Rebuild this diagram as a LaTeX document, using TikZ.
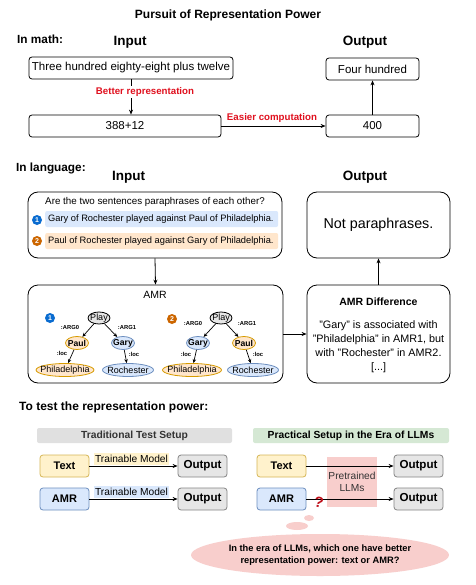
\documentclass[tikz,border=0pt]{standalone}
\usepackage{fontspec}
\setmainfont{Liberation Sans}
\usetikzlibrary{arrows.meta,shapes.geometric}
\definecolor{redlab}{HTML}{E0101E}
\definecolor{bluefill}{HTML}{DAE8FC}
\definecolor{bluedraw}{HTML}{6C8EBF}
\definecolor{orfill}{HTML}{FFE6CC}
\definecolor{ordraw}{HTML}{D79B00}
\definecolor{yelfill}{HTML}{FFF2CC}
\definecolor{yeldraw}{HTML}{D6B656}
\definecolor{grayfill}{HTML}{E6E6E6}
\definecolor{graydraw}{HTML}{666666}
\definecolor{pinkfill}{HTML}{F8CECC}
\definecolor{greenfill}{HTML}{D5E8D4}
\definecolor{barfill}{HTML}{E0E0E0}
\definecolor{numblue}{HTML}{0A6CD0}
\definecolor{numorange}{HTML}{CC6600}
\definecolor{darktext}{HTML}{333333}
\begin{document}
\begin{tikzpicture}[x=1pt,y=-1pt,
  fs/.style={font=\fontsize{#1}{#1}\selectfont},
  fsb/.style={font=\fontsize{#1}{#1}\selectfont\bfseries},
  mbox/.style={draw, rounded corners=3pt, line width=0.8pt, inner sep=0},
  bigbox/.style={draw, rounded corners=10pt, line width=0.8pt, inner sep=0},
  arr/.style={-{Stealth[length=5pt,width=4pt]}, line width=0.8pt},
  redlabel/.style={fsb=9.7, text=redlab, inner sep=1pt},
  numc/.style={circle, inner sep=0, minimum size=10, text=white, fsb=7},
  tnode/.style={ellipse, draw, line width=0.8pt, inner sep=0, minimum height=13},
  tgray/.style={tnode, fill=grayfill, draw=black},
  torange/.style={tnode, fill=orfill, draw=ordraw},
  tblue/.style={tnode, fill=bluefill, draw=bluedraw},
  tt/.style={label={[fs=9,inner sep=0]center:#1}},
  ttb/.style={label={[fsb=8.6,inner sep=0]center:#1}},
  elab/.style={fsb=5.8, inner sep=0.5pt},
  tarr/.style={-{Stealth[length=4pt,width=3.5pt]}, line width=0.7pt},
  sbox/.style={draw, rounded corners=3pt, line width=0.8pt, inner sep=0, minimum width=49, minimum height=22, fsb=11},
  ybox/.style={sbox, fill=yelfill, draw=yeldraw},
  bbox/.style={sbox, fill=bluefill, draw=bluedraw},
  obox/.style={sbox, fill=grayfill, draw=graydraw!80, fsb=11.6},
  bubble/.style={ellipse, fill=pinkfill, inner sep=0},
  hl/.style={rounded corners=2pt, minimum width=233, minimum height=16, inner sep=0, anchor=west}
]
\fill[white] (0,0) rectangle (475,585);
\useasboundingbox (0,0) rectangle (475,585);

% ---------------- math
\node[fsb=12] (title) at (228,15) {Pursuit of Representation Power};
\node[fsb=11.8, anchor=west, inner sep=0] (inmath) at (17,39) {In math:};
\node[fsb=13.5] (in1) at (130,42) {Input};
\node[fsb=13.5] (out1) at (365,42) {Output};

\node[mbox, minimum width=204, minimum height=22, fs=11.5] (t) at (131,68) {Three hundred eighty-eight plus twelve};
\node[mbox, minimum width=93, minimum height=22, fs=11.5] (fh) at (372.5,69) {Four hundred};
\node[mbox, minimum width=192, minimum height=22, fs=11.5] (s) at (125,126) {388+12};
\node[mbox, minimum width=93, minimum height=22, fs=11.5] (f) at (372.5,126) {400};

\draw[arr] (t.south) -- (t.south |- s.north);
\node[redlabel, fill=white] (br) at (145,92) {Better representation};
\draw[arr] (s.east) -- (f.west);
\node[redlabel] (ec) at (272,118) {Easier computation};
\draw[arr] (f.north) -- (fh.south);

% ---------------- language
\node[fsb=11.8, anchor=west, inner sep=0] (inlang) at (16,168) {In language:};
\node[fsb=13.5] (in2) at (128.5,177) {Input};
\node[fsb=13.5] (out2) at (365,177) {Output};

\node[bigbox, minimum width=254, minimum height=66] (ib) at (155,225) {};
\node[bigbox, minimum width=143, minimum height=66, fs=14.3] (ob) at (378.5,225) {Not paraphrases.};
\node[bigbox, minimum width=255, minimum height=98] (ab) at (155.5,334) {};
\node[bigbox, minimum width=143, minimum height=98] (db) at (378.5,334) {};

\node[fs=9.8] (q) at (155,202) {Are the two sentences paraphrases of each other?};
\node[hl, fill=bluefill] (h1) at (45,219) {};
\node[hl, fill=orfill] (h2) at (45,241) {};
\node[fs=9.3, anchor=west, inner sep=0] (s1) at (48,219) {Gary of Rochester played against Paul of Philadelphia.};
\node[fs=9.3, anchor=west, inner sep=0] (s2) at (48,241) {Paul of Rochester played against Gary of Philadelphia.};
\node[numc, fill=numblue] (n1a) at (37,220) {1};
\node[numc, fill=numorange] (n2a) at (37,241) {2};

\draw[arr] (ib.south) -- (ab.north);
\draw[arr] (ab.east) -- (db.west);
\draw[arr] (db.north) -- (ob.south);

% AMR box content
\node[fs=10.5] (amrt) at (155,295) {AMR};
\node[numc, fill=numblue] (n1b) at (50,318) {1};
\node[tgray, minimum width=22, minimum height=12, tt=Play] (p1) at (99,318) {};
\node[torange, minimum width=23, ttb=Paul] (a1) at (77,343) {};
\node[tblue, minimum width=23, ttb=Gary] (g1) at (123,343) {};
\node[torange, minimum width=58, tt=Philadelphia] (ph1) at (65,370) {};
\node[tblue, minimum width=51, tt=Rochester] (r1) at (128,370) {};
\draw[tarr] (p1) -- (a1);
\draw[tarr] (p1) -- (g1);
\draw[tarr] (a1) -- (ph1);
\draw[tarr] (g1) -- (r1);
\node[elab] (l1a) at (70,328) {:ARG0};
\node[elab] (l1b) at (127,328) {:ARG1};
\node[elab] (l1c) at (62,353) {:loc};
\node[elab] (l1d) at (134,354) {:loc};

\node[numc, fill=numorange] (n2b) at (172,319) {2};
\node[tgray, minimum width=22, minimum height=12, tt=Play] (p2) at (221,318) {};
\node[tblue, minimum width=23, ttb=Gary] (g2) at (198,343) {};
\node[torange, minimum width=23, ttb=Paul] (a2) at (244,343) {};
\node[torange, minimum width=59, tt=Philadelphia] (ph2) at (192,370) {};
\node[tblue, minimum width=51, tt=Rochester] (r2) at (253,370) {};
\draw[tarr] (p2) -- (g2);
\draw[tarr] (p2) -- (a2);
\draw[tarr] (g2) -- (ph2);
\draw[tarr] (a2) -- (r2);
\node[elab] (l2a) at (193,324) {:ARG0};
\node[elab] (l2b) at (247,324) {:ARG1};
\node[elab] (l2c) at (186,354) {:loc};
\node[elab] (l2d) at (258,354) {:loc};

% AMR difference
\node[fsb=10.5] (dt) at (378.5,302) {AMR Difference};
\node[font=\fontsize{10.8}{14}\selectfont, align=center, inner sep=0] (dtext) at (378.5,347) {"Gary" is associated with\\"Philadelphia" in AMR1, but\\with "Rochester" in AMR2.\\{[...]}};

% ---------------- test section
\node[fsb=12, anchor=west, inner sep=0] (testh) at (19,407) {To test the representation power:};
\node[fill=barfill, rounded corners=2pt, minimum width=195, minimum height=15, inner sep=0, fsb=10.3, text=darktext] (bar1) at (134.5,435.5) {Traditional Test Setup};
\node[fill=greenfill, rounded corners=2pt, minimum width=196, minimum height=15, inner sep=0, fsb=10.3] (bar2) at (351,435.5) {Practical Setup in the Era of LLMs};

\node[ybox] (tl) at (64.5,466) {Text};
\node[bbox] (al) at (64.5,499) {AMR};
\node[obox] (ol1) at (202.5,466) {Output};
\node[obox] (ol2) at (202.5,499) {Output};
\draw[arr] (tl.east) -- (ol1.west);
\draw[arr] (al.east) -- (ol2.west);
\node[fill=yelfill, fs=10.2, inner xsep=1pt, inner ysep=0, minimum height=12] (tm1) at (131.5,459) {Trainable Model};
\node[fill=bluefill, fs=10.2, inner xsep=1pt, inner ysep=0, minimum height=12] (tm2) at (131.5,492) {Trainable Model};

\node[fill=pinkfill, minimum width=50, minimum height=50, inner sep=0, align=center, font=\fontsize{10.2}{12}\selectfont, text=darktext] (llm) at (352,482) {Pretrained\\LLMs};
\node[ybox] (tr) at (281.5,466) {Text};
\node[bbox] (ar) at (281.5,499) {AMR};
\node[obox] (or1) at (418.5,466) {Output};
\node[obox] (or2) at (418.5,499) {Output};
\draw[arr] (tr.east) -- (or1.west);
\draw[arr] (ar.east) -- (or2.west);
\node[fsb=15, text=redlab!85!black, rotate=-12, inner sep=0] (qm) at (319,502) {?};

\node[bubble, minimum width=10, minimum height=6] (b1) at (309,518) {};
\node[bubble, minimum width=22, minimum height=8] (b2) at (297,526) {};
\node[bubble, minimum width=221, minimum height=42, align=center, font=\fontsize{9.3}{12}\selectfont\bfseries] (b3) at (320,555) {In the era of LLMs, which one have better\\representation power: text or AMR?};
\end{tikzpicture}
\end{document}
